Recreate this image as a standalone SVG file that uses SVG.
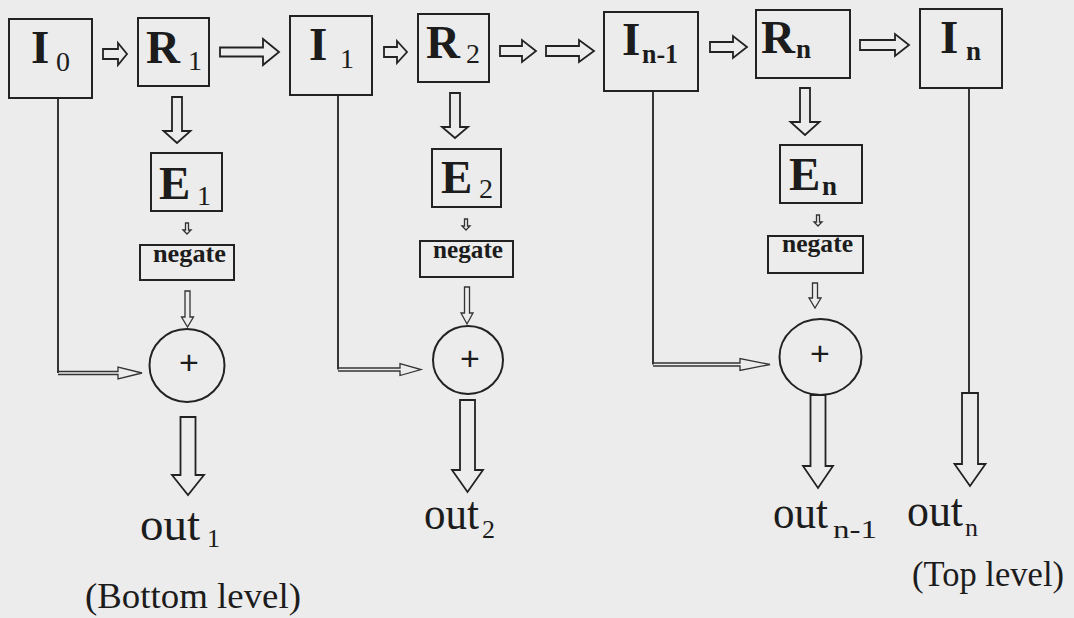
<svg xmlns="http://www.w3.org/2000/svg" width="1074" height="618" viewBox="0 0 1074 618">
<style>
.bg{fill:#ececec}
.box{fill:none;stroke:#222;stroke-width:2}
.ln{fill:none;stroke:#222;stroke-width:1.8}
.arr{fill:none;stroke:#222;stroke-width:1.8;stroke-linejoin:miter}
.thin{fill:none;stroke:#333;stroke-width:1.3}
.big{font-family:"Liberation Serif",serif;font-weight:bold;font-size:47px;fill:#1c1c1c}
.sub{font-family:"Liberation Serif",serif;font-size:28px;fill:#1c1c1c}
.subb{font-family:"Liberation Serif",serif;font-weight:bold;font-size:27px;fill:#1c1c1c}
.neg{font-family:"Liberation Serif",serif;font-weight:bold;font-size:25px;fill:#1c1c1c}
.out{font-family:"Liberation Serif",serif;font-size:46px;fill:#1c1c1c}
.osub{font-family:"Liberation Serif",serif;font-size:26px;fill:#1c1c1c}
.note{font-family:"Liberation Serif",serif;font-size:36px;fill:#1c1c1c}
.plus{font-family:"Liberation Sans",sans-serif;font-size:34px;fill:#1c1c1c;text-anchor:middle}
</style>
<rect class="bg" x="0" y="0" width="1074" height="618"/>

<g id="I0"><rect class="box" x="9" y="19" width="83" height="79"/><text class="big" x="31" y="63">I</text><text class="sub" x="56" y="71">0</text></g>
<g id="R1"><rect class="box" x="138" y="18" width="71" height="68"/><text class="big" x="146" y="63">R</text><text class="sub" x="188" y="70">1</text></g>
<g id="I1"><rect class="box" x="290" y="16" width="82" height="79"/><text class="big" x="309" y="60">I</text><text class="sub" x="340" y="68">1</text></g>
<g id="R2"><rect class="box" x="418" y="14" width="71" height="68"/><text class="big" x="426" y="58">R</text><text class="sub" x="466" y="63">2</text></g>
<g id="In-1"><rect class="box" x="604" y="12" width="94" height="79"/><text class="big" x="622" y="55">I</text><text class="subb" x="642" y="63" textLength="36" lengthAdjust="spacingAndGlyphs">n-1</text></g>
<g id="Rn"><rect class="box" x="756" y="10" width="94" height="68"/><text class="big" x="761" y="53">R</text><text class="subb" x="796" y="58">n</text></g>
<g id="In"><rect class="box" x="920" y="9" width="82" height="79"/><text class="big" x="940" y="53">I</text><text class="subb" x="966" y="60">n</text></g>

<g id="E1"><rect class="box" x="151" y="153" width="71" height="58"/><text class="big" x="159" y="199">E</text><text class="sub" x="197" y="205">1</text></g>
<g id="E2"><rect class="box" x="432" y="149" width="69" height="58"/><text class="big" x="441" y="193">E</text><text class="sub" x="479" y="198">2</text></g>
<g id="En"><rect class="box" x="780" y="145" width="82" height="58"/><text class="big" x="789" y="190">E</text><text class="subb" x="822" y="195">n</text></g>

<g id="neg1"><rect class="box" x="140" y="245" width="94" height="35"/><text class="neg" x="153" y="262" textLength="73" lengthAdjust="spacingAndGlyphs">negate</text></g>
<g id="neg2"><rect class="box" x="420" y="241" width="93" height="36"/><text class="neg" x="433" y="258" textLength="70" lengthAdjust="spacingAndGlyphs">negate</text></g>
<g id="negn"><rect class="box" x="768" y="236" width="95" height="37"/><text class="neg" x="782" y="252" textLength="71" lengthAdjust="spacingAndGlyphs">negate</text></g>

<g id="sum1"><ellipse class="box" cx="187" cy="365.5" rx="37.5" ry="36.5"/><text class="plus" x="189" y="374">+</text></g>
<g id="sum2"><ellipse class="box" cx="468" cy="360" rx="35" ry="34"/><text class="plus" x="470" y="370">+</text></g>
<g id="sumn"><ellipse class="box" cx="820.5" cy="357" rx="41" ry="38"/><text class="plus" x="820" y="365">+</text></g>

<g id="out1"><text class="out" x="140" y="540" textLength="60" lengthAdjust="spacingAndGlyphs">out</text><text class="osub" x="207" y="547">1</text></g>
<g id="out2"><text class="out" x="424" y="529" textLength="55" lengthAdjust="spacingAndGlyphs">out</text><text class="osub" x="482" y="538">2</text></g>
<g id="outn-1"><text class="out" x="773" y="528" textLength="55" lengthAdjust="spacingAndGlyphs">out</text><text class="osub" x="833" y="538" textLength="44" lengthAdjust="spacingAndGlyphs">n-1</text></g>
<g id="outn"><text class="out" x="907" y="526" textLength="56" lengthAdjust="spacingAndGlyphs">out</text><text class="osub" x="965" y="536">n</text></g>
<g id="bottom-label"><text class="note" x="85" y="608" textLength="216" lengthAdjust="spacingAndGlyphs">(Bottom level)</text></g>
<g id="top-label"><text class="note" x="912" y="586" textLength="152" lengthAdjust="spacingAndGlyphs">(Top level)</text></g>

<g id="connectors">
<path class="arr" d="M103,49 L118,49 L118,43 L127,54 L118,65 L118,59 L103,59 Z"/>
<path class="arr" d="M220,47.5 L263,47.5 L263,39 L279,52 L263,65 L263,56.5 L220,56.5 Z"/>
<path class="arr" d="M384,47 L397,47 L397,41 L407,52 L397,63 L397,57 L384,57 Z"/>
<path class="arr" d="M500,46 L522,46 L522,40 L536,51 L522,62 L522,56 L500,56 Z"/>
<path class="arr" d="M546,46 L579,46 L579,40 L594,51 L579,62 L579,56 L546,56 Z"/>
<path class="arr" d="M710,42 L733,42 L733,36 L747,47 L733,58 L733,52 L710,52 Z"/>
<path class="arr" d="M860,40 L895,40 L895,34 L909,45 L895,56 L895,50 L860,50 Z"/>
<path class="arr" d="M172,97 L172,131 L163.5,131 L177,143 L190.5,131 L182,131 L182,97 Z"/>
<path class="arr" d="M450,93 L450,127 L442,127 L455,138 L468,127 L460,127 L460,93 Z"/>
<path class="arr" d="M800,88 L800,122 L790.5,122 L805,135 L819.5,122 L810,122 L810,88 Z"/>
<path class="thin" d="M185.5,223 L185.5,230 L183,230 L187,234 L191,230 L188.5,230 L188.5,223 Z"/>
<path class="thin" d="M464.5,219 L464.5,226 L462,226 L466,230 L470,226 L467.5,226 L467.5,219 Z"/>
<path class="thin" d="M816.5,215 L816.5,222 L814,222 L818,226 L822,222 L819.5,222 L819.5,215 Z"/>
<path class="thin" d="M185,291 L185,317 L181.5,317 L187.5,327 L193.5,317 L190,317 L190,291 Z"/>
<path class="thin" d="M464.5,287 L464.5,313 L461,313 L467,324 L473,313 L469.5,313 L469.5,287 Z"/>
<path class="thin" d="M812.5,283 L812.5,298 L809,298 L815,308 L821,298 L817.5,298 L817.5,283 Z"/>
<path class="ln" d="M58,98 L58,373"/>
<path class="thin" d="M58,371.5 L118,371.5 L118,367 L142,373 L118,379 L118,374.5 L58,374.5"/>
<path class="ln" d="M338,95 L338,369.5"/>
<path class="thin" d="M338,368 L400,368 L400,363.5 L421,369.5 L400,375.5 L400,371 L338,371"/>
<path class="ln" d="M653,91 L653,364.5"/>
<path class="thin" d="M653,363 L740,363 L740,358.5 L770,364.5 L740,370.5 L740,366 L653,366"/>
<path class="ln" d="M969,88 L969,393"/>
<path class="arr" d="M180.5,417 L180.5,475 L172,475 L188,495 L204,475 L195.5,475 L195.5,417 Z"/>
<path class="arr" d="M460,400 L460,470 L452,470 L467.5,492 L483,470 L475,470 L475,400 Z"/>
<path class="arr" d="M810.5,395 L810.5,466 L803,466 L818,488 L833,466 L825.5,466 L825.5,395 Z"/>
<path class="arr" d="M962,393 L962,464 L954.5,464 L970,486 L985.5,464 L978,464 L978,393 Z"/>
</g>
</svg>
